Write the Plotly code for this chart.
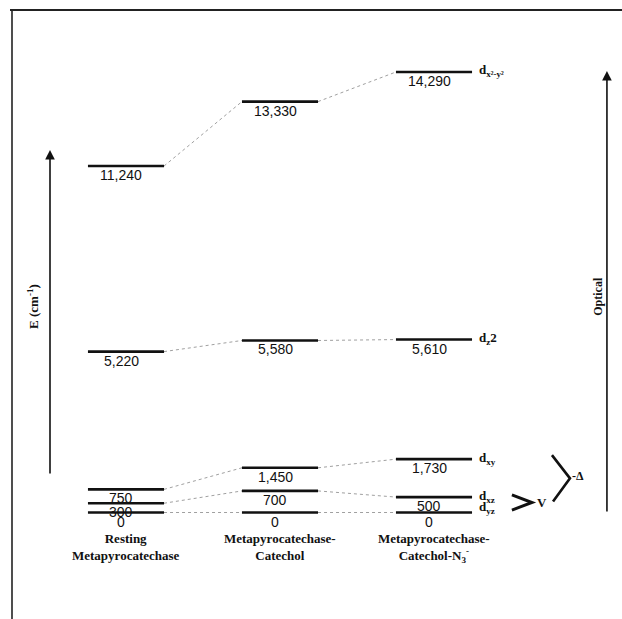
import plotly.graph_objects as go

# ---- data ----
categories = ["Resting<br>Metapyrocatechase",
              "Metapyrocatechase-<br>Catechol",
              "Metapyrocatechase-<br>Catechol-N<sub>3</sub><sup>-</sup>"]
orbitals = ["d<sub>x²-y²</sub>", "d<sub>z</sub>2", "d<sub>xy</sub>", "d<sub>xz</sub>", "d<sub>yz</sub>"]
resting = [11240, 5220, 750, 300, 0]
catechol = [13330, 5580, 1450, 700, 0]
catechol_n3 = [14290, 5610, 1730, 500, 0]
columns = [resting, catechol, catechol_n3]

W, H = 622, 619
# axis mapping (data units)
X_RANGE = [-126 / 154, (W - 126) / 154]
PX_PER_E = 0.030826
Y_RANGE = [-(H - 512.5) / PX_PER_E, 512.5 / PX_PER_E]
HALF = 0.247

BLACK = "#111111"
FONT_NUM = dict(family="Liberation Sans, Arial", size=14, color=BLACK)
FONT_SERIF = dict(family="Liberation Serif, Times New Roman", size=13, color=BLACK)

fig = go.Figure()

# dotted connectors
for i in range(len(columns) - 1):
    for a, b in zip(columns[i], columns[i + 1]):
        fig.add_trace(go.Scatter(x=[i + HALF, i + 1 - HALF], y=[a, b], mode="lines",
                                 line=dict(color="#a0a0a0", width=1, dash="dot"),
                                 hoverinfo="skip", showlegend=False))

# energy levels
for i, col in enumerate(columns):
    for e in col:
        fig.add_trace(go.Scatter(x=[i - HALF, i + HALF], y=[e, e], mode="lines",
                                 line=dict(color=BLACK, width=2.6),
                                 hoverinfo="skip", showlegend=False))
        fig.add_annotation(x=i - 0.03, y=e, text=f"{e:,}", showarrow=False,
                           yanchor="middle", yshift=-9, font=FONT_NUM)

# category labels
for i, c in enumerate(categories):
    fig.add_annotation(x=i, y=0, text="<b>" + c + "</b>", showarrow=False,
                       yanchor="top", yshift=-16, font=FONT_SERIF, align="center")

# orbital labels at right of last column
oshift = [2, 1, 1, 1, 5]
last = len(columns) - 1
for lab, e, s in zip(orbitals, catechol_n3, oshift):
    fig.add_annotation(x=last + HALF, y=e, text="<b>" + lab + "</b>", showarrow=False,
                       xanchor="left", xshift=5, yshift=s,
                       font=dict(family="Liberation Serif", size=13, color=BLACK))

# brackets (derived from orbital energies)
e_xz, e_yz, e_xy = catechol_n3[3], catechol_n3[4], catechol_n3[2]
s_top, s_bot = e_xz + 70, e_yz + 80
s_mid = (s_top + s_bot) / 2
fig.add_shape(type="path", xref="x", yref="y",
              path=f"M 2.506 {s_top} L 2.636 {s_mid} L 2.506 {s_bot}",
              line=dict(color=BLACK, width=3))
fig.add_annotation(x=2.64, y=s_mid, text="<b>V</b>", showarrow=False, xanchor="left",
                   xshift=2, font=dict(family="Liberation Serif", size=13, color=BLACK))
b_top, b_bot = e_xy + 130, s_mid + 30
b_mid = (b_top + b_bot) / 2
fig.add_shape(type="path", xref="x", yref="y",
              path=f"M 2.766 {b_top} L 2.883 {b_mid} L 2.773 {b_bot}",
              line=dict(color=BLACK, width=2.6))
fig.add_annotation(x=2.885, y=b_mid, text="<b>-Δ</b>", showarrow=False, xanchor="left",
                   yshift=2, font=dict(family="Liberation Serif", size=12, color=BLACK))

# energy axis arrow (left) and optical arrow (right)
fig.add_annotation(x=-0.4935, y=11760, ax=-0.4935, ay=1216, axref="x", ayref="y",
                   xref="x", yref="y", showarrow=True, arrowhead=2, arrowsize=1.2,
                   arrowwidth=1.6, arrowcolor=BLACK, text="")
fig.add_annotation(x=3.123, y=14322, ax=3.123, ay=-16, axref="x", ayref="y",
                   xref="x", yref="y", showarrow=True, arrowhead=2, arrowsize=1.2,
                   arrowwidth=1.6, arrowcolor=BLACK, text="")
fig.add_annotation(x=-0.604, y=6700, text="<b>E (cm<sup>-1</sup>)</b>", showarrow=False,
                   textangle=-90, font=dict(family="Liberation Serif", size=13, color=BLACK))
fig.add_annotation(x=3.065, y=7000, text="<b>Optical</b>", showarrow=False,
                   textangle=-90, font=dict(family="Liberation Serif", size=12, color=BLACK))

# frame (top and left edges)
fig.add_shape(type="line", xref="paper", yref="paper", x0=10 / W, x1=1, y0=1 - 10 / H, y1=1 - 10 / H,
              line=dict(color="#222222", width=2))
fig.add_shape(type="line", xref="paper", yref="paper", x0=12 / W, x1=12 / W, y0=0, y1=1 - 10 / H,
              line=dict(color="#222222", width=1.6))

fig.update_layout(width=W, height=H, margin=dict(l=0, r=0, t=0, b=0),
                  paper_bgcolor="white", plot_bgcolor="white", showlegend=False,
                  xaxis=dict(range=X_RANGE, visible=False, fixedrange=True),
                  yaxis=dict(range=Y_RANGE, visible=False, fixedrange=True))

fig.write_html("out.html", config={"displayModeBar": False},
               post_script="document.body.style.margin='0';document.body.style.overflow='hidden';")
